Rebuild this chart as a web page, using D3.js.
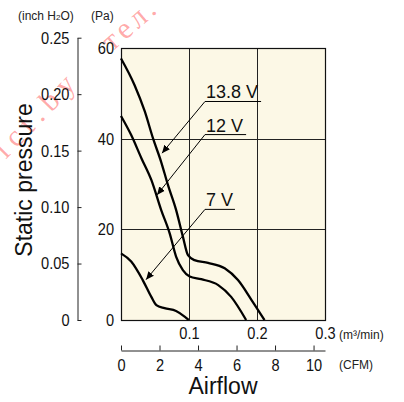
<!DOCTYPE html>
<html><head><meta charset="utf-8">
<script src="https://cdn.jsdelivr.net/npm/d3@7"></script>
<style>
body{margin:0;background:#fff;}
svg{display:block;}
.tick text{font-family:"Liberation Sans",Arial,sans-serif;font-size:17px;fill:#111;}
</style></head>
<body>
<svg id="c" width="404" height="402"></svg>
<script>
// ---- data ----
const flow138 = [0, 0.020, 0.035, 0.047, 0.059, 0.069, 0.081, 0.091, 0.0985, 0.108, 0.128, 0.1525, 0.172, 0.192, 0.211];
const pres138 = [57.7, 51.8, 46.0, 40.1, 34.9, 29.8, 24.3, 18.4, 14.3, 13.2, 12.6, 11.4, 8.8, 4.4, 0];
const flow12 = [0, 0.015, 0.030, 0.0446, 0.059, 0.0716, 0.081, 0.091, 0.101, 0.118, 0.143, 0.162, 0.184];
const pres12 = [45.0, 40.8, 35.7, 30.9, 24.3, 19.1, 14.0, 11.0, 9.6, 9.0, 7.7, 5.1, 0];
const flow7 = [0, 0.015, 0.032, 0.0446, 0.052, 0.064, 0.081, 0.094, 0.0995];
const pres7 = [14.7, 12.9, 8.8, 5.1, 3.3, 2.6, 2.0, 0.7, 0];
const seriesNames = ["13.8 V", "12 V", "7 V"];
// annotation: label anchor (flow, pressure), underline end flow, arrow tip (flow, pressure)
const labelFlow = [0.1235, 0.1235, 0.1235];
const labelPres = [48.2, 40.9, 24.4];
const underlineEnd = [0.206, 0.184, 0.1676];
const tipFlow = [0.0603, 0.053, 0.0368];
const tipPres = [36.8, 27.6, 8.9];
const paTicks = [0, 20, 40, 60];
const inchTicks = [0, 0.05, 0.10, 0.15, 0.20, 0.25];
const m3Ticks = [0.1, 0.2, 0.3];
const cfmTicks = [0, 2, 4, 6, 8, 10];

const svg = d3.select("#c");
const x = d3.scaleLinear().domain([0, 0.3]).range([121, 325]);
const y = d3.scaleLinear().domain([0, 60]).range([320, 48]);
const PA_PER_INCH = 249.09, M3_PER_CFM = 0.0283168;
const yIn = d3.scaleLinear().domain([0, 0.25]).range([y(0), y(0.25 * PA_PER_INCH)]);
const xCfm = d3.scaleLinear().domain([0, 0.3 / M3_PER_CFM]).range([x(0), x(0.3)]);
const SX = 0.86; // condensed look of tick labels

// watermark
const wm = svg.append("g").attr("fill", "rgba(255,50,50,0.42)")
  .style("font-family", "'Liberation Serif','DejaVu Serif',serif").style("font-size", "30px");
wm.append("text").attr("transform", "translate(-6,172) rotate(-46)").style("letter-spacing", "7px").text("rict.by");
wm.append("text").attr("transform", "translate(112,52) rotate(-41)").style("letter-spacing", "4px").text("тел.");

// plot background
svg.append("rect").attr("x", x(0)).attr("y", y(60)).attr("width", x(0.3) - x(0)).attr("height", y(0) - y(60))
  .attr("fill", "#fcf8e6");

// grid
const grid = svg.append("g").attr("stroke", "#222").attr("stroke-width", 1);
grid.selectAll("line.v").data([0.1, 0.2]).join("line")
  .attr("x1", d => Math.round(x(d)) + 0.5).attr("x2", d => Math.round(x(d)) + 0.5)
  .attr("y1", y(60)).attr("y2", y(0));
grid.selectAll("line.h").data([20, 40]).join("line").attr("class", "h")
  .attr("y1", d => Math.round(y(d)) + 0.5).attr("y2", d => Math.round(y(d)) + 0.5)
  .attr("x1", x(0)).attr("x2", x(0.3));
svg.append("rect").attr("x", x(0) + 0.5).attr("y", y(60) + 0.5).attr("width", x(0.3) - x(0)).attr("height", y(0) - y(60))
  .attr("fill", "none").attr("stroke", "#111").attr("stroke-width", 1.2);

function condense(g) {
  g.selectAll(".tick text").each(function () {
    const t = d3.select(this);
    const xv = +t.attr("x") || 0;
    t.attr("x", xv / SX).attr("transform", `scale(${SX},1)`);
  });
}

// Pa axis labels
const paAx = svg.append("g").attr("transform", `translate(${x(0)},0)`)
  .call(d3.axisLeft(y).tickValues(paTicks).tickFormat(d3.format("d")).tickSize(0).tickPadding(7));
paAx.select(".domain").remove();
condense(paAx);

// inch axis
const inAx = svg.append("g").attr("transform", "translate(77.5,0)")
  .call(d3.axisLeft(yIn).tickValues(inchTicks).tickFormat(d => d === 0 ? "0" : d3.format(".2f")(d)).tickSize(-4).tickSizeOuter(0).tickPadding(8));
inAx.selectAll("line,path").attr("stroke", "#222");
condense(inAx);

// m3/min labels
const mAx = svg.append("g").attr("transform", `translate(0,${y(0)})`)
  .call(d3.axisBottom(x).tickValues(m3Ticks).tickFormat(d3.format(".1f")).tickSize(0).tickPadding(7));
mAx.select(".domain").remove();
condense(mAx);

// CFM axis
const cAx = svg.append("g").attr("transform", "translate(0,350.5)")
  .call(d3.axisBottom(xCfm).tickValues(cfmTicks).tickFormat(d3.format("d")).tickSize(-5).tickSizeOuter(0).tickPadding(8));
cAx.selectAll("line,path").attr("stroke", "#222");
condense(cAx);

// unit labels
const small = {"font-family": "Liberation Sans, Arial, sans-serif", "font-size": "12px", "fill": "#222"};
function addText(t, xx, yy, anchor) {
  const el = svg.append("text").attr("x", xx).attr("y", yy).attr("text-anchor", anchor || "start");
  Object.entries(small).forEach(([k, v]) => el.style(k, v));
  if (t) el.text(t);
  return el;
}
addText("(m³/min)", 339, 339);
addText("(CFM)", 339, 369);
const h = addText("", 18, 20);
h.append("tspan").text("(inch H");
h.append("tspan").text("2").style("font-size", "8px");
h.append("tspan").text("O)");
addText("(Pa)", 91, 20);

// axis titles
svg.append("text").attr("x", 223).attr("y", 394).attr("text-anchor", "middle")
  .style("font-family", "Liberation Sans, Arial, sans-serif").style("font-size", "23px").style("fill", "#111").text("Airflow");
svg.append("text").attr("transform", "translate(32,180) rotate(-90)").attr("text-anchor", "middle")
  .style("font-family", "Liberation Sans, Arial, sans-serif").style("font-size", "23px").style("fill", "#111").text("Static pressure");

// curves
const line = d3.line().x(d => x(d[0])).y(d => y(d[1])).curve(d3.curveMonotoneX);
const series = [d3.zip(flow138, pres138), d3.zip(flow12, pres12), d3.zip(flow7, pres7)];
svg.append("g").selectAll("path").data(series).join("path")
  .attr("d", line).attr("fill", "none").attr("stroke", "#000").attr("stroke-width", 2.3);

// annotations
svg.append("defs").append("marker").attr("id", "ah").attr("viewBox", "0 0 10 10")
  .attr("refX", 10).attr("refY", 5).attr("markerWidth", 8).attr("markerHeight", 8)
  .attr("markerUnits", "userSpaceOnUse").attr("orient", "auto")
  .append("path").attr("d", "M0,0.5 L10,5 L0,9.5 Z").attr("fill", "#000");
const ann = svg.append("g");
seriesNames.forEach((name, i) => {
  const lx = x(labelFlow[i]), ly = y(labelPres[i]);
  ann.append("path").attr("d", `M${x(underlineEnd[i])},${ly} H${lx} L${x(tipFlow[i])},${y(tipPres[i])}`)
    .attr("fill", "none").attr("stroke", "#000").attr("stroke-width", 1).attr("marker-end", "url(#ah)");
  ann.append("text").attr("x", lx + 1).attr("y", ly - 3)
    .style("font-family", "Liberation Sans, Arial, sans-serif").style("font-size", "18px").style("fill", "#111").text(name);
});
</script>
</body></html>
